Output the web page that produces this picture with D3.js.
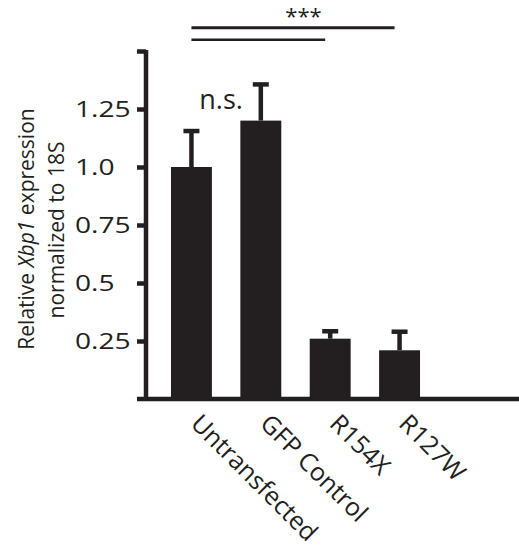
<!DOCTYPE html>
<html>
<head>
<meta charset="utf-8">
<script src="https://cdn.jsdelivr.net/npm/d3@7"></script>
<style>
  body { margin: 0; background: #fff; }
  svg { display: block; }
  text { font-family: "Open Sans", sans-serif; fill: #231f20; }
</style>
</head>
<body>
<svg id="chart" width="519" height="552"></svg>
<script>
// Relative Xbp1 expression (normalized to 18S), mean and error per condition
const categories = ["Untransfected", "GFP Control", "R154X", "R127W"];
const means = [1.0, 1.2, 0.26, 0.21];
const errors = [0.155, 0.156, 0.032, 0.08];

// y-axis ticks
const tickValues = [0.25, 0.5, 0.75, 1.0, 1.25, 1.5];
const tickLabels = ["0.25", "0.5", "0.75", "1.0", "1.25", ""];

// significance brackets
const brackets = [
  { from: "Untransfected", to: "R127W" },
  { from: "Untransfected", to: "R154X" }
];
const starsLabel = "***";
const nsLabel = "n.s.";

const ink = "#231f20";
const svg = d3.select("#chart");

const axisX = 146, baseY = 399, topY = 51;

const x = d3.scaleBand()
  .domain(categories)
  .range([axisX, 445])
  .paddingInner(0.41)
  .paddingOuter(0.36);

const y = d3.scaleLinear().domain([0, 1.5]).range([baseY, topY]);

const data = categories.map((c, i) => ({ cat: c, mean: means[i], err: errors[i] }));
const cx = c => x(c) + x.bandwidth() / 2;

// bars
svg.append("g").selectAll("rect").data(data).join("rect")
  .attr("x", d => x(d.cat))
  .attr("width", x.bandwidth())
  .attr("y", d => y(d.mean))
  .attr("height", d => y(0) - y(d.mean))
  .attr("fill", ink);

// error bars (upper whisker only)
const eb = svg.append("g").attr("stroke", ink).attr("stroke-width", 4.5);
eb.selectAll("line.stem").data(data).join("line")
  .attr("class", "stem")
  .attr("x1", d => cx(d.cat)).attr("x2", d => cx(d.cat))
  .attr("y1", d => y(d.mean)).attr("y2", d => y(d.mean + d.err));
eb.selectAll("line.cap").data(data).join("line")
  .attr("class", "cap")
  .attr("x1", d => cx(d.cat) - 8).attr("x2", d => cx(d.cat) + 8)
  .attr("y1", d => y(d.mean + d.err)).attr("y2", d => y(d.mean + d.err));

// baseline
svg.append("line")
  .attr("x1", axisX - 9).attr("x2", 519)
  .attr("y1", y(0)).attr("y2", y(0))
  .attr("stroke", ink).attr("stroke-width", 4.5);

// y axis
const yAxis = d3.axisLeft(y)
  .tickValues(tickValues)
  .tickFormat((d, i) => tickLabels[i])
  .tickSize(9)
  .tickSizeOuter(0);

const gy = svg.append("g")
  .attr("transform", `translate(${axisX},0)`)
  .call(yAxis);
gy.select(".domain").attr("stroke", ink).attr("stroke-width", 4.5)
  .attr("d", `M0,${topY - 1}V${baseY + 2}`);
gy.selectAll(".tick line").attr("stroke", ink).attr("stroke-width", 4.5);
gy.selectAll(".tick text")
  .attr("x", 0)
  .attr("text-anchor", "start")
  .attr("font-size", 22)
  .attr("fill", ink)
  .attr("transform", "translate(-71,0) scale(1.28,1)");

// y-axis title
const title = svg.append("g")
  .attr("transform", "rotate(-90)")
  .attr("font-size", 21)
  .attr("text-anchor", "middle");
const t1 = title.append("text").attr("x", -229).attr("y", 33.5);
t1.append("tspan").text("Relative ");
t1.append("tspan").attr("font-style", "italic").text("Xbp1");
t1.append("tspan").text(" expression");
title.append("text").attr("x", -230).attr("y", 64).text("normalized to 18S");

// category labels
svg.append("g").selectAll("text").data(categories).join("text")
  .attr("transform", d => `translate(${cx(d) - 2},425) rotate(45)`)
  .attr("font-size", 25)
  .attr("text-anchor", "start")
  .text(d => d);

// significance brackets
const bracketY = [27.7, 39.7];
const bracketW = [3, 2.5];
svg.append("g").selectAll("line").data(brackets).join("line")
  .attr("x1", d => cx(d.from))
  .attr("x2", d => cx(d.to) - 5)
  .attr("y1", (d, i) => bracketY[i]).attr("y2", (d, i) => bracketY[i])
  .attr("stroke", ink)
  .attr("stroke-width", (d, i) => bracketW[i]);

svg.append("text")
  .attr("x", (cx(brackets[0].from) + cx(brackets[0].to)) / 2 + 8)
  .attr("y", 24)
  .attr("text-anchor", "middle")
  .attr("font-size", 22)
  .text(starsLabel);

svg.append("text")
  .attr("x", (cx(categories[0]) + cx(categories[1])) / 2 - 5)
  .attr("y", 109)
  .attr("text-anchor", "middle")
  .attr("font-size", 27)
  .text(nsLabel);
</script>
</body>
</html>
